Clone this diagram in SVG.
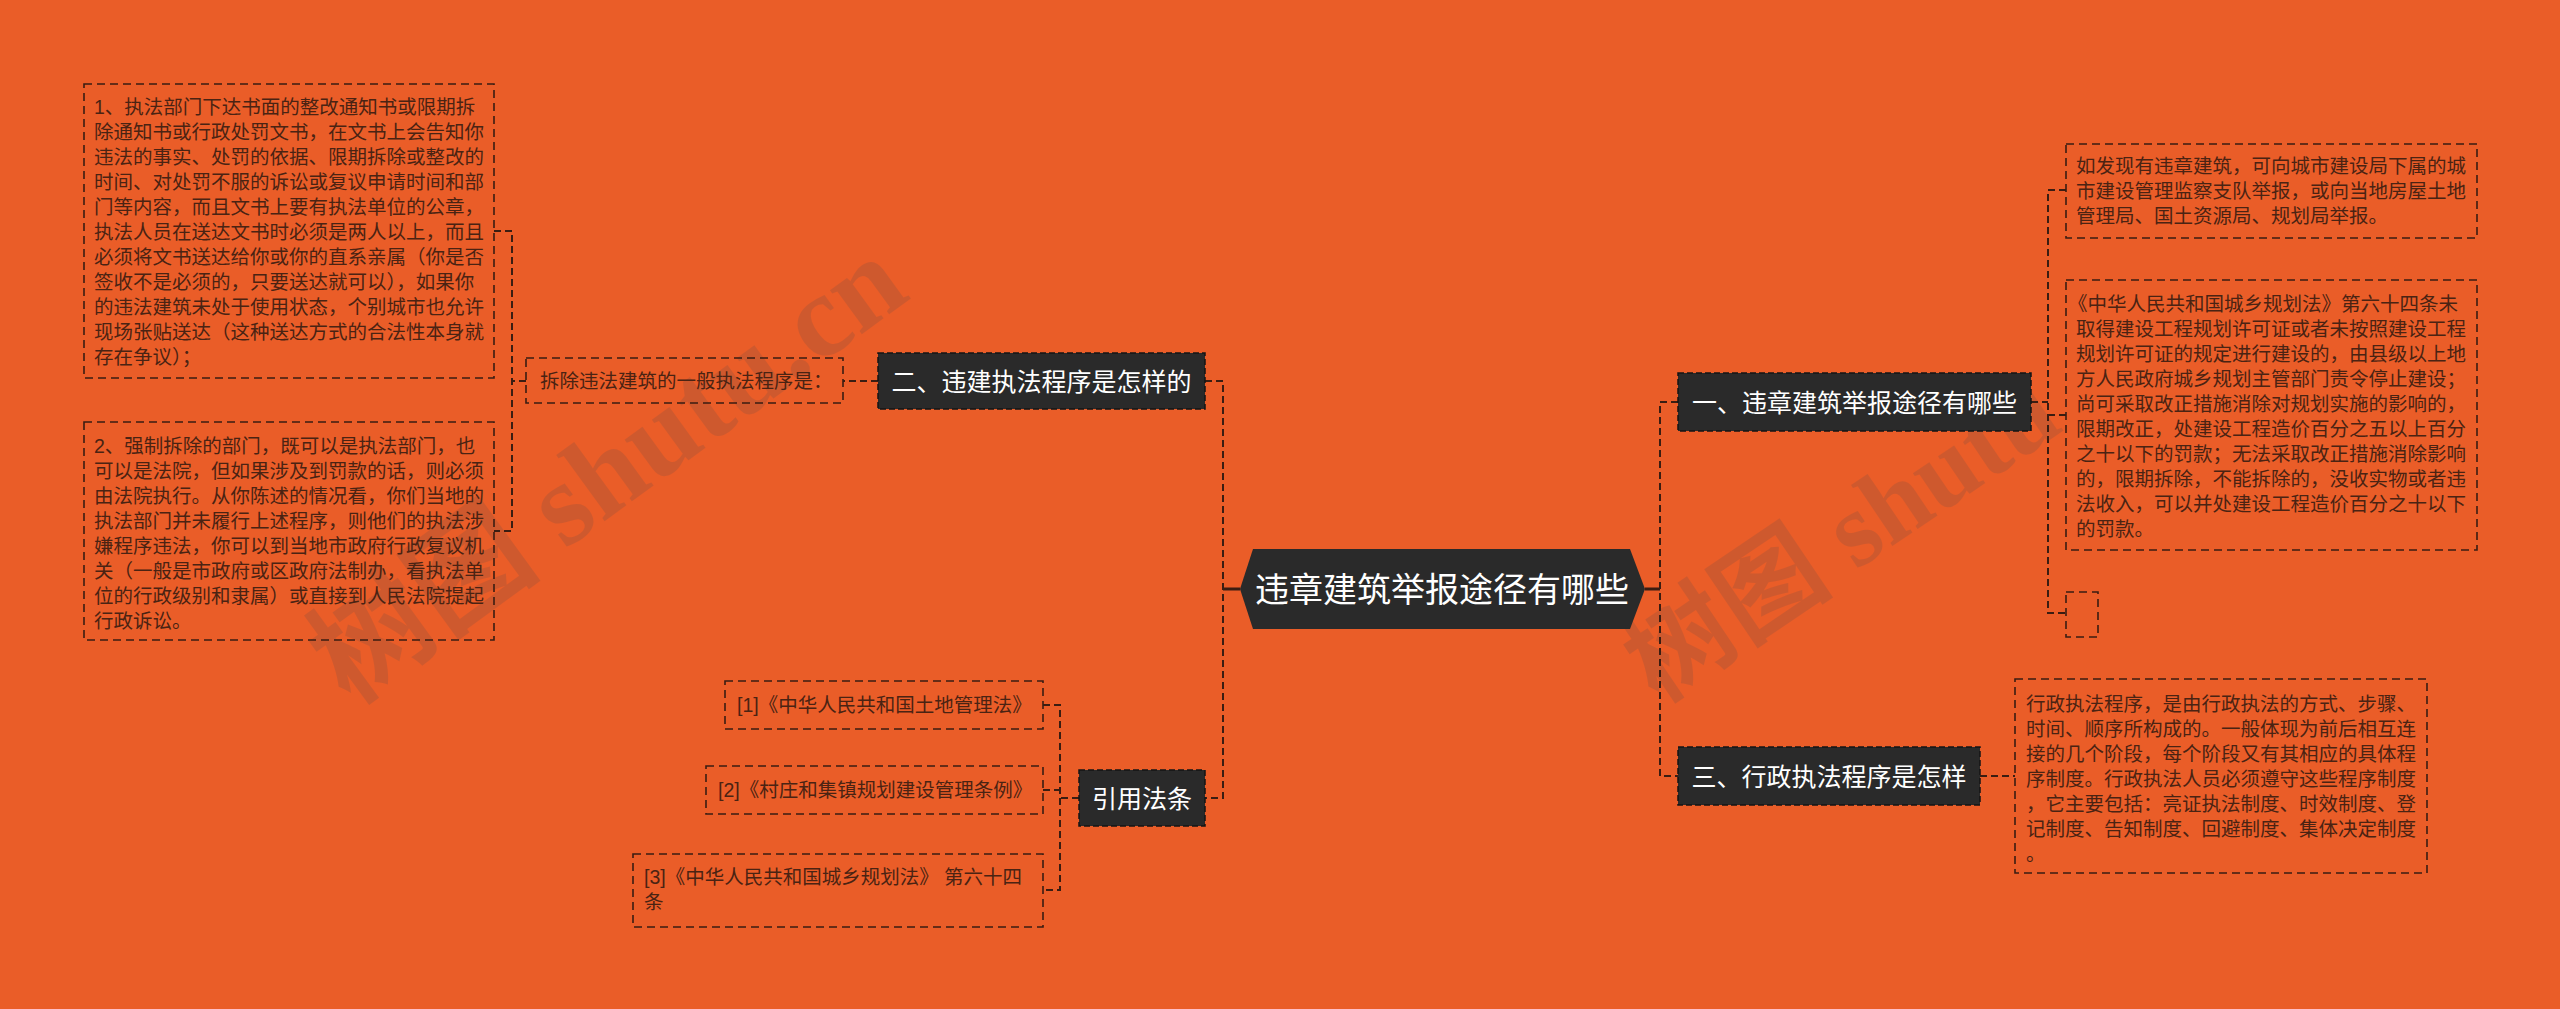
<svg xmlns="http://www.w3.org/2000/svg" width="2560" height="1009" viewBox="0 0 2560 1009">
<style>
.wm{font-family:"Liberation Serif","Noto Sans CJK SC",serif;font-weight:bold;fill:#7a5044;opacity:0.24}
.box{fill:none;stroke:#3a1d12;stroke-width:1.6;stroke-dasharray:8 5}
.node{fill:#2a2a2a;stroke:#141414;stroke-width:1.5;stroke-dasharray:6 3}
.t{font-family:"Liberation Sans","Noto Sans CJK SC",sans-serif;font-size:19.5px;fill:#4a2313}
.nt{font-family:"Liberation Sans","Noto Sans CJK SC",sans-serif;font-size:25px;fill:#ffffff;text-anchor:middle}
.conn{fill:none;stroke:#3a1d12;stroke-width:2;stroke-dasharray:7 4}
.solid{fill:none;stroke:#3a1d12;stroke-width:3}
</style>
<rect x="0" y="0" width="2560" height="1009" fill="#ea5d28"/>
<g id="watermarks">
<text class="wm" style="font-size:118px" transform="translate(350,706) rotate(-36)">树图 shutu.cn</text>
<text class="wm" style="font-size:106px" transform="translate(1658,704) rotate(-34)">树图 shutu</text>
</g>
<g id="connectors">
<path class="solid" d="M1223 589 H1240 M1645 589 H1660"/>
<path class="conn" d="M1205 381 H1223 V798 H1205"/>
<path class="conn" d="M1678 402 H1660 V776 H1678"/>
<path class="conn" d="M2031 402 H2048"/>
<path class="conn" d="M2066 190 H2048 V613 H2066 M2048 415 H2066"/>
<path class="conn" d="M1980 776 H2015"/>
<path class="conn" d="M878 381 H843 M526 381 H512"/>
<path class="conn" d="M494 231 H512 V531 H494"/>
<path class="conn" d="M1079 798 H1060"/>
<path class="conn" d="M1043 705 H1060 V890 H1043 M1043 790 H1060"/>
</g>
<g id="root">
<polygon points="1240,589 1253,549 1630,549 1645,589 1630,629 1253,629" fill="#2a2a2a"/>
<text x="1442" y="601.5" class="nt" style="font-size:34px">违章建筑举报途径有哪些</text>
</g>
<g id="n1">
<rect class="node" x="1678" y="373" width="353" height="58"/>
<text x="1854.5" y="411.5" class="nt">一、违章建筑举报途径有哪些</text>
</g>
<g id="n1c1">
<rect class="box" x="2066" y="144" width="411" height="94"/>
<text class="t"><tspan x="2076" y="173">如发现有违章建筑，可向城市建设局下属的城</tspan><tspan x="2076" y="198">市建设管理监察支队举报，或向当地房屋土地</tspan><tspan x="2076" y="223">管理局、国土资源局、规划局举报。</tspan></text>
</g>
<g id="n1c2">
<rect class="box" x="2066" y="280" width="411" height="270"/>
<text class="t"><tspan x="2068" y="311">《中华人民共和国城乡规划法》第六十四条未</tspan><tspan x="2076" y="336">取得建设工程规划许可证或者未按照建设工程</tspan><tspan x="2076" y="361">规划许可证的规定进行建设的，由县级以上地</tspan><tspan x="2076" y="386">方人民政府城乡规划主管部门责令停止建设；</tspan><tspan x="2076" y="411">尚可采取改正措施消除对规划实施的影响的，</tspan><tspan x="2076" y="436">限期改正，处建设工程造价百分之五以上百分</tspan><tspan x="2076" y="461">之十以下的罚款；无法采取改正措施消除影响</tspan><tspan x="2076" y="486">的，限期拆除，不能拆除的，没收实物或者违</tspan><tspan x="2076" y="511">法收入，可以并处建设工程造价百分之十以下</tspan><tspan x="2076" y="536">的罚款。</tspan></text>
</g>
<g id="n1c3">
<rect class="box" x="2066" y="592" width="32" height="45"/>
</g>
<g id="n3">
<rect class="node" x="1678" y="747" width="302" height="58"/>
<text x="1829" y="785.5" class="nt">三、行政执法程序是怎样</text>
</g>
<g id="n3c1">
<rect class="box" x="2015" y="679" width="412" height="194"/>
<text class="t"><tspan x="2026" y="711">行政执法程序，是由行政执法的方式、步骤、</tspan><tspan x="2026" y="736">时间、顺序所构成的。一般体现为前后相互连</tspan><tspan x="2026" y="761">接的几个阶段，每个阶段又有其相应的具体程</tspan><tspan x="2026" y="786">序制度。行政执法人员必须遵守这些程序制度</tspan><tspan x="2026" y="811">，它主要包括：亮证执法制度、时效制度、登</tspan><tspan x="2026" y="836">记制度、告知制度、回避制度、集体决定制度</tspan><tspan x="2026" y="861">。</tspan></text>
</g>
<g id="n2">
<rect class="node" x="878" y="353" width="327" height="56"/>
<text x="1041.5" y="390.5" class="nt">二、违建执法程序是怎样的</text>
</g>
<g id="n2c1">
<rect class="box" x="526" y="358" width="317" height="45"/>
<text x="540" y="388" class="t">拆除违法建筑的一般执法程序是：</text>
</g>
<g id="n2c1c1">
<rect class="box" x="84" y="84" width="410" height="294"/>
<text class="t"><tspan x="94" y="114">1、执法部门下达书面的整改通知书或限期拆</tspan><tspan x="94" y="139">除通知书或行政处罚文书，在文书上会告知你</tspan><tspan x="94" y="164">违法的事实、处罚的依据、限期拆除或整改的</tspan><tspan x="94" y="189">时间、对处罚不服的诉讼或复议申请时间和部</tspan><tspan x="94" y="214">门等内容，而且文书上要有执法单位的公章，</tspan><tspan x="94" y="239">执法人员在送达文书时必须是两人以上，而且</tspan><tspan x="94" y="264">必须将文书送达给你或你的直系亲属（你是否</tspan><tspan x="94" y="289">签收不是必须的，只要送达就可以），如果你</tspan><tspan x="94" y="314">的违法建筑未处于使用状态，个别城市也允许</tspan><tspan x="94" y="339">现场张贴送达（这种送达方式的合法性本身就</tspan><tspan x="94" y="364">存在争议）；</tspan></text>
</g>
<g id="n2c1c2">
<rect class="box" x="84" y="422" width="410" height="218"/>
<text class="t"><tspan x="94" y="453">2、强制拆除的部门，既可以是执法部门，也</tspan><tspan x="94" y="478">可以是法院，但如果涉及到罚款的话，则必须</tspan><tspan x="94" y="503">由法院执行。从你陈述的情况看，你们当地的</tspan><tspan x="94" y="528">执法部门并未履行上述程序，则他们的执法涉</tspan><tspan x="94" y="553">嫌程序违法，你可以到当地市政府行政复议机</tspan><tspan x="94" y="578">关（一般是市政府或区政府法制办，看执法单</tspan><tspan x="94" y="603">位的行政级别和隶属）或直接到人民法院提起</tspan><tspan x="94" y="628">行政诉讼。</tspan></text>
</g>
<g id="n4">
<rect class="node" x="1079" y="770" width="126" height="56"/>
<text x="1142" y="807.5" class="nt">引用法条</text>
</g>
<g id="n4c1">
<rect class="box" x="725" y="681" width="318" height="48"/>
<text x="737" y="712" class="t">[1]《中华人民共和国土地管理法》</text>
</g>
<g id="n4c2">
<rect class="box" x="706" y="766" width="337" height="48"/>
<text x="718" y="797" class="t">[2]《村庄和集镇规划建设管理条例》</text>
</g>
<g id="n4c3">
<rect class="box" x="633" y="854" width="410" height="73"/>
<text class="t"><tspan x="644" y="884">[3]《中华人民共和国城乡规划法》 第六十四</tspan><tspan x="644" y="909">条</tspan></text>
</g>
</svg>
